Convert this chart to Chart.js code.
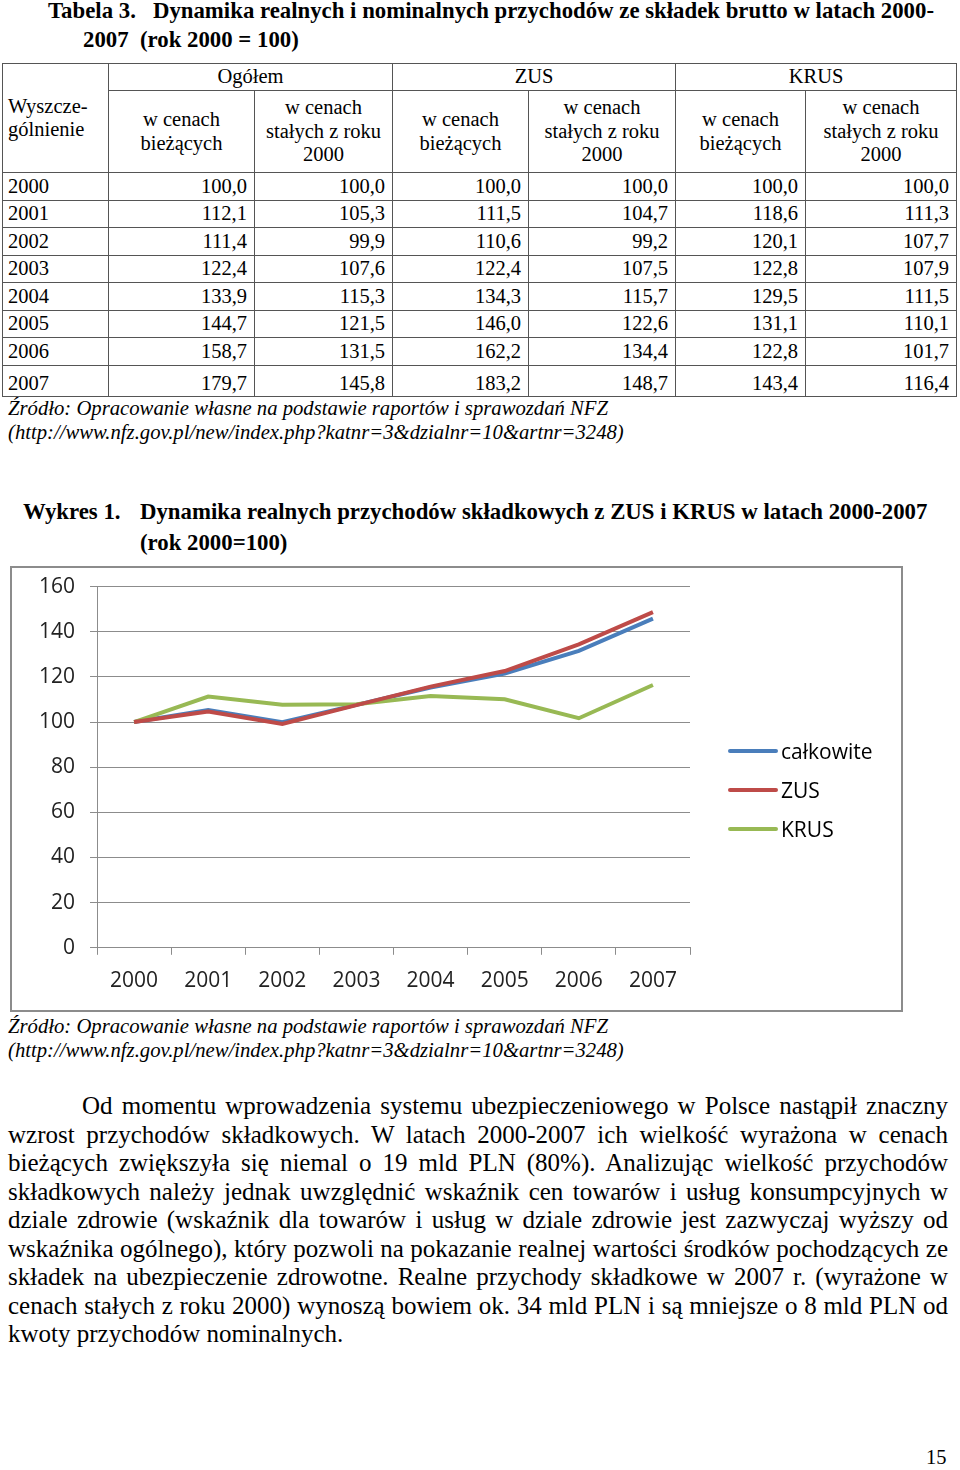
<!DOCTYPE html>
<html lang="pl">
<head>
<meta charset="utf-8">
<title>Wykres 1</title>
<script src="https://cdn.jsdelivr.net/npm/chart.js@4.4.1/dist/chart.umd.min.js"></script>
<style>
  body { margin: 0; background: #fff; }
  #page {
    position: relative; width: 960px; height: 1470px; overflow: hidden;
    font-family: "Liberation Serif", "Times New Roman", serif; color: #000;
  }
  .abs { position: absolute; }
  .title { font-weight: bold; font-size: 22.8px; line-height: 29px; white-space: nowrap; }
  .src { font-family: "Liberation Serif", serif; font-style: italic; font-size: 20.7px; line-height: 24px; white-space: nowrap; }
  table {
    position: absolute; left: 2px; top: 63px; width: 954px;
    border-collapse: collapse; table-layout: fixed;
    font-family: "Liberation Serif", serif; font-size: 20.5px;
  }
  td, th { font-family: "Liberation Serif", serif; border: 1.5px solid #555; padding: 0 7px; font-weight: normal; line-height: 23.5px; }
  th { text-align: center; }
  td { text-align: right; height: 26.5px; }
  td.yr { text-align: left; padding-left: 5px; }
  #chartBox {
    position: absolute; left: 10px; top: 566px; width: 889px; height: 442px;
    border: 2px solid #8c8c8c;
  }
  /* canvas wystaje 9px ponad ramkę, żeby oś Y zaczynała się wyżej */
  #chartBox canvas { position: absolute; left: 0; top: -9px; }
  #legend { position: absolute; left: 716px; top: 163px; font-family: "Open Sans", sans-serif; font-size: 21px; }
  #legend div { height: 39px; display: flex; align-items: center; }
  #legend span.ln { display: inline-block; width: 50px; height: 4px; margin-right: 3px; border-radius: 2px; }
  .para { position: absolute; left: 8px; top: 1092px; width: 940px; font-size: 25px; line-height: 28.5px; }
  .para span { display: block; text-align: justify; text-align-last: justify; white-space: nowrap; }
  .para span.first { padding-left: 74px; }
  .para span.last { text-align-last: left; }
</style>
</head>
<body>
<div id="page">
  <div class="abs title" style="left:48px; top:-4px;">Tabela 3.&nbsp;&nbsp; Dynamika realnych i nominalnych przychodów ze składek brutto w latach 2000-</div>
  <div class="abs title" style="left:83px; top:25px;">2007&nbsp; (rok 2000 = 100)</div>

  <table id="tab">
    <colgroup>
      <col style="width:106px"><col style="width:146px"><col style="width:138px">
      <col style="width:136px"><col style="width:147px"><col style="width:130px"><col style="width:151px">
    </colgroup>
    <thead>
      <tr style="height:27px">
        <th rowspan="2" style="text-align:left; padding-left:5px;">Wyszcze-<br>gólnienie</th>
        <th colspan="2">Ogółem</th><th colspan="2">ZUS</th><th colspan="2">KRUS</th>
      </tr>
      <tr style="height:82px">
        <th>w cenach<br>bieżących</th><th>w cenach<br>stałych z roku<br>2000</th>
        <th>w cenach<br>bieżących</th><th>w cenach<br>stałych z roku<br>2000</th>
        <th>w cenach<br>bieżących</th><th>w cenach<br>stałych z roku<br>2000</th>
      </tr>
    </thead>
    <tbody id="tbody"></tbody>
  </table>

  <div class="abs src" style="left:8px; top:396px;">Źródło: Opracowanie własne na podstawie raportów i sprawozdań NFZ<br>(http://www.nfz.gov.pl/new/index.php?katnr=3&amp;dzialnr=10&amp;artnr=3248)</div>

  <div class="abs title" style="left:23px; top:496px; line-height:31px;">Wykres 1.</div>
  <div class="abs title" style="left:140px; top:496px; line-height:31px;">Dynamika realnych przychodów składkowych z ZUS i KRUS w latach 2000-2007<br>(rok 2000=100)</div>

  <div id="chartBox">
    <canvas id="chart" width="889" height="451"></canvas>
    <div id="legend"></div>
  </div>

  <div class="abs src" style="left:8px; top:1014px;">Źródło: Opracowanie własne na podstawie raportów i sprawozdań NFZ<br>(http://www.nfz.gov.pl/new/index.php?katnr=3&amp;dzialnr=10&amp;artnr=3248)</div>

  <div class="para">
    <span class="first">Od momentu wprowadzenia systemu ubezpieczeniowego w Polsce nastąpił znaczny</span>
    <span>wzrost przychodów składkowych. W latach 2000-2007 ich wielkość wyrażona w cenach</span>
    <span>bieżących zwiększyła się niemal o 19 mld PLN (80%). Analizując wielkość przychodów</span>
    <span>składkowych należy jednak uwzględnić wskaźnik cen towarów i usług konsumpcyjnych w</span>
    <span>dziale zdrowie (wskaźnik dla towarów i usług w dziale zdrowie jest zazwyczaj wyższy od</span>
    <span>wskaźnika ogólnego), który pozwoli na pokazanie realnej wartości środków pochodzących ze</span>
    <span>składek na ubezpieczenie zdrowotne. Realne przychody składkowe w 2007 r. (wyrażone w</span>
    <span>cenach stałych z roku 2000) wynoszą bowiem ok. 34 mld PLN i są mniejsze o 8 mld PLN od</span>
    <span class="last">kwoty przychodów nominalnych.</span>
  </div>

  <div class="abs" style="left:926px; top:1446px; font-size:20.5px;">15</div>
</div>

<script>
  // lata
  const years = ["2000", "2001", "2002", "2003", "2004", "2005", "2006", "2007"];

  // tabela 3 - ceny bieżące
  const ogolemBiezace = [100.0, 112.1, 111.4, 122.4, 133.9, 144.7, 158.7, 179.7];
  const zusBiezace = [100.0, 111.5, 110.6, 122.4, 134.3, 146.0, 162.2, 183.2];
  const krusBiezace = [100.0, 118.6, 120.1, 122.8, 129.5, 131.1, 122.8, 143.4];

  // ceny stałe z roku 2000 (to samo idzie na wykres)
  const ogolemStale = [100.0, 105.3, 99.9, 107.6, 115.3, 121.5, 131.5, 145.8];
  const zusStale = [100.0, 104.7, 99.2, 107.5, 115.7, 122.6, 134.4, 148.7];
  const krusStale = [100.0, 111.3, 107.7, 107.9, 111.5, 110.1, 101.7, 116.4];

  const seriesNames = ["całkowite", "ZUS", "KRUS"];
  const yMin = 0;
  const yMax = 160;
  const yStep = 20;

  const BLUE = "#4a7ebb";
  const RED = "#be4b48";
  const GREEN = "#98b954";
  const GRID = "#8c8c8c";

  const fmt = (v) => v.toFixed(1).replace(".", ",");

  const tbody = document.getElementById("tbody");
  years.forEach((year, i) => {
    const cells = [ogolemBiezace, ogolemStale, zusBiezace, zusStale, krusBiezace, krusStale]
      .map((arr) => `<td>${fmt(arr[i])}</td>`)
      .join("");
    const tall = i === years.length - 1 ? ' style="height:31px; vertical-align:bottom"' : "";
    tbody.innerHTML += `<tr${tall}><td class="yr">${year}</td>${cells}</tr>`;
  });

  const tickFont = { family: "'Open Sans', sans-serif", size: 21 };

  const chart = new Chart(document.getElementById("chart").getContext("2d"), {
    type: "line",
    data: {
      labels: years,
      datasets: [
        { label: seriesNames[0], data: ogolemStale, borderColor: BLUE, order: 2 },
        { label: seriesNames[1], data: zusStale, borderColor: RED, order: 0 },
        { label: seriesNames[2], data: krusStale, borderColor: GREEN, order: 1 },
      ].map((ds) => ({ ...ds, borderWidth: 4, pointRadius: 0, tension: 0, fill: false })),
    },
    options: {
      responsive: false,
      animation: false,
      layout: { padding: { left: 12, top: 0, right: 211, bottom: 2 } },
      plugins: { legend: { display: false }, tooltip: { enabled: false } },
      scales: {
        x: {
          offset: true,
          grid: { offset: true, drawOnChartArea: false, tickLength: 7, color: GRID },
          border: { color: GRID },
          ticks: { font: tickFont, color: "#222", padding: 14, maxRotation: 0 },
        },
        y: {
          min: yMin,
          max: yMax,
          grid: { color: GRID, tickLength: 7 },
          border: { color: GRID },
          ticks: { stepSize: yStep, font: tickFont, color: "#222", padding: 15 },
        },
      },
    },
  });

  const legend = document.getElementById("legend");
  chart.data.datasets.forEach((ds) => {
    legend.innerHTML += `<div><span class="ln" style="background:${ds.borderColor}"></span>${ds.label}</div>`;
  });
</script>
</body>
</html>
